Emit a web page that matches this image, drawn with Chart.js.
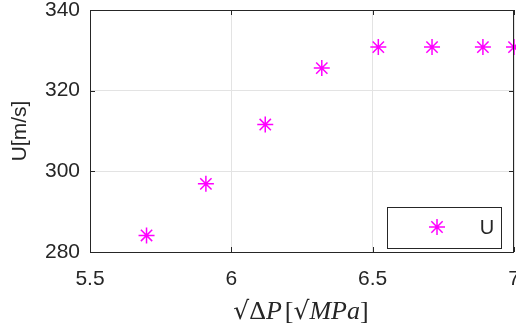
<!DOCTYPE html>
<html>
<head>
<meta charset="utf-8">
<script src="https://cdn.jsdelivr.net/npm/chart.js@4"></script>
<style>
  html, body { margin: 0; padding: 0; background: #ffffff; }
  #wrap { width: 516px; height: 327px; }
</style>
</head>
<body>
<div id="wrap"><canvas id="uChart" width="516" height="327"></canvas></div>
<script>
// data
const sqrtDP = [5.70, 5.91, 6.12, 6.32, 6.52, 6.71, 6.89, 7.00];
const uVals = [284.1, 296.9, 311.6, 325.6, 330.8, 330.8, 330.8, 330.8];
const seriesName = 'U';
const xTicks = [5.5, 6, 6.5, 7];
const yTicks = [280, 300, 320, 340];

const axisColor = '#262626';
const magenta = '#ff00ff';

// box, inward ticks, legend and the LaTeX-like x label
const matlabBits = {
    id: 'matlabBits',
    afterDraw(chart) {
        const { ctx, chartArea: a, scales } = chart;
        ctx.save();
        ctx.strokeStyle = axisColor;
        ctx.lineWidth = 1;
        ctx.strokeRect(a.left + 0.5, a.top + 0.5, a.right - a.left - 1, a.bottom - a.top);

        // inward tick marks
        ctx.beginPath();
        xTicks.forEach(v => {
            const x = Math.round(scales.x.getPixelForValue(v)) + 0.5;
            ctx.moveTo(x, a.bottom); ctx.lineTo(x, a.bottom - 5);
            ctx.moveTo(x, a.top); ctx.lineTo(x, a.top + 5);
        });
        yTicks.forEach(v => {
            const y = Math.round(scales.y.getPixelForValue(v)) + 0.5;
            ctx.moveTo(a.left, y); ctx.lineTo(a.left + 5, y);
            ctx.moveTo(a.right, y); ctx.lineTo(a.right - 5, y);
        });
        ctx.stroke();

        // legend box, lower right
        const lw = 114, lh = 41;
        const lx = a.right - 13 - lw, ly = a.bottom - 4 - lh;
        ctx.fillStyle = '#ffffff';
        ctx.fillRect(lx, ly, lw, lh);
        ctx.strokeStyle = axisColor;
        ctx.strokeRect(lx + 0.5, ly + 0.5, lw, lh);
        ctx.strokeStyle = magenta;
        ctx.lineWidth = 1.5;
        Chart.helpers.drawPoint(ctx, { pointStyle: 'star', radius: 8, borderWidth: 1.5 }, lx + 50, ly + 20);
        ctx.fillStyle = axisColor;
        ctx.font = '20px "Liberation Sans", Arial, sans-serif';
        ctx.textBaseline = 'middle';
        ctx.textAlign = 'center';
        ctx.fillText(seriesName, lx + 100, ly + 21);

        // x axis title: sqrt(ΔP)[sqrt(MPa)]
        const parts = [
            { t: '\u221A', f: '25px "DejaVu Serif", serif' },
            { t: '\u0394', f: '26px "Liberation Serif", serif' },
            { t: 'P', f: 'italic 26px "Liberation Serif", serif' },
            { t: '[', f: '26px "Liberation Serif", serif' },
            { t: '\u221A', f: '25px "DejaVu Serif", serif' },
            { t: 'MPa', f: 'italic 26px "Liberation Serif", serif' },
            { t: ']', f: '26px "Liberation Serif", serif' }
        ];
        let total = 0;
        parts.forEach(p => { ctx.font = p.f; p.w = ctx.measureText(p.t).width + (p.t === 'P' ? 3 : 0); total += p.w; });
        let cx = 301 - total / 2;
        const base = 319;
        ctx.textAlign = 'left';
        ctx.textBaseline = 'alphabetic';
        ctx.fillStyle = axisColor;
        parts.forEach(p => {
            ctx.font = p.f;
            ctx.fillText(p.t, cx, base);
            cx += p.w;
        });
        ctx.restore();
    }
};

new Chart(document.getElementById('uChart'), {
    type: 'scatter',
    data: {
        datasets: [{
            label: seriesName,
            data: sqrtDP.map((x, i) => ({ x: x, y: uVals[i] })),
            pointStyle: 'star',
            pointRadius: 8,
            pointHoverRadius: 8,
            pointBorderWidth: 1.5,
            borderColor: magenta,
            backgroundColor: magenta,
            clip: false
        }]
    },
    options: {
        responsive: false,
        animation: false,
        events: [],
        layout: { autoPadding: false, padding: { top: 10, right: 2, left: 0, bottom: 0 } },
        plugins: {
            legend: { display: false },
            tooltip: { enabled: false }
        },
        scales: {
            x: {
                type: 'linear',
                min: 5.5,
                max: 7,
                afterBuildTicks: s => { s.ticks = xTicks.map(v => ({ value: v })); },
                afterFit: s => { s.height = 75; s.paddingLeft = 0; s.paddingRight = 0; },
                grid: { color: '#e3e3e3', drawTicks: false },
                border: { display: false },
                ticks: {
                    color: axisColor,
                    padding: 15,
                    maxRotation: 0,
                    callback: v => String(v),
                    font: { family: '"Liberation Sans", Arial, sans-serif', size: 21 }
                }
            },
            y: {
                type: 'linear',
                min: 280,
                max: 340,
                afterBuildTicks: s => { s.ticks = yTicks.map(v => ({ value: v })); },
                afterFit: s => { s.width = 90; s.paddingTop = 0; s.paddingBottom = 0; },
                grid: { color: '#e3e3e3', drawTicks: false },
                border: { display: false },
                title: {
                    display: true,
                    text: 'U[m/s]',
                    color: axisColor,
                    padding: { top: 8, bottom: 0 },
                    font: { family: '"Liberation Sans", Arial, sans-serif', size: 21 }
                },
                ticks: {
                    color: axisColor,
                    padding: 10,
                    font: { family: '"Liberation Sans", Arial, sans-serif', size: 21 }
                }
            }
        }
    },
    plugins: [matlabBits]
});
</script>
</body>
</html>
